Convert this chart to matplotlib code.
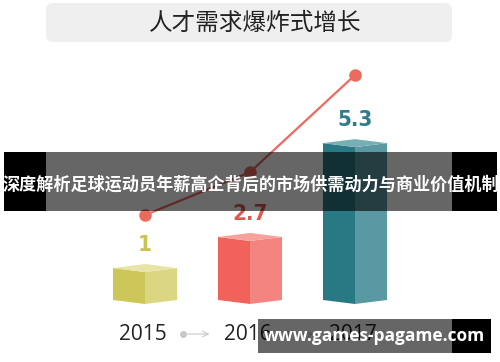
import matplotlib
matplotlib.use('Agg')
import matplotlib.pyplot as plt
from matplotlib.patches import Polygon, FancyBboxPatch, Rectangle

plt.rcParams['font.family'] = ['Noto Sans CJK SC', 'DejaVu Sans']

# データ
years = ['2015', '2016', '2017']
values = [1, 2.7, 5.3]
value_labels = ['1', '2.7', '5.3']
# 図の上で描かれている箱の高さ（絵から読んだ値）
box_height = [1.08, 2.13, 5.3]
# 赤い折れ線
trend = [2.87, 4.32, 7.6]

title = '人才需求爆炸式增长'
banner = '深度解析足球运动员年薪高企背后的市场供需动力与商业价值机制'
site = 'www.games-pagame.com'

# 箱の色（左面, 右面, 上面, 数字）
colors = [
    ('#cdc659', '#dbd682', '#e7e4a6', '#c8c352'),
    ('#f0625a', '#f4847f', '#f6a19c', '#e0574f'),
    ('#287983', '#5a99a3', '#78afb7', '#2e7c87'),
]

W, H = 500, 362
fig = plt.figure(figsize=(W / 100, H / 100), dpi=100)

# 背景（タイトルの箱）
bg = fig.add_axes([0, 0, 1, 1], zorder=0)
bg.set_xlim(0, W)
bg.set_ylim(H, 0)
bg.axis('off')
bg.add_patch(FancyBboxPatch((46, 3), 406, 39, boxstyle='round,pad=0,rounding_size=7',
                            facecolor='#efefef', edgecolor='none'))
bg.text(255, 23, title, ha='center', va='center', fontsize=17, color='#222222')

# グラフ本体
ax = fig.add_axes([0.08, 0, 0.84, 312 / 362], zorder=1)
ax.patch.set_alpha(0)
ax.set_xlim(-1, 3)
ax.set_ylim(-62 / 29.6, 250 / 29.6)
ax.axis('off')

w = 0.305   # 箱の半分の幅
d = 0.135   # 上面のひし形の深さ
for i, h in enumerate(box_height):
    left_c, right_c, top_c, txt_c = colors[i]
    x = i
    ax.add_patch(Polygon([(x - w, 0), (x, -d), (x, h - d), (x - w, h)], closed=True,
                         facecolor=left_c, edgecolor='none'))
    ax.add_patch(Polygon([(x, -d), (x + w, 0), (x + w, h), (x, h - d)], closed=True,
                         facecolor=right_c, edgecolor='none'))
    ax.add_patch(Polygon([(x - w, h), (x, h - d), (x + w, h), (x, h + d)], closed=True,
                         facecolor=top_c, edgecolor='none'))
    ax.text(x, h + d + 0.65, value_labels[i], ha='center', va='center', fontsize=16,
            fontweight='bold', fontstretch='condensed', color=txt_c, family='DejaVu Sans')
    ax.text(x - 0.02, -1.15, years[i], ha='center', va='center', fontsize=15,
            color='#222222', family=['Open Sans', 'DejaVu Sans'])

# 年の間の小さい矢印
for i in range(len(years) - 1):
    ax.plot([i + 0.36], [-1.15], 'o', color='#c8c8c8', markersize=4)
    ax.annotate('', xy=(i + 0.64, -1.15), xytext=(i + 0.38, -1.15),
                arrowprops=dict(arrowstyle='->', color='#c8c8c8', lw=0.8))

ax.plot(range(len(trend)), trend, color='#ec6a5e', lw=1.6, marker='o', markersize=8,
        zorder=5)

# 上に重なった帯
ov = fig.add_axes([0, 0, 1, 1], zorder=2)
ov.patch.set_alpha(0)
ov.set_xlim(0, W)
ov.set_ylim(H, 0)
ov.axis('off')
ov.add_patch(Rectangle((4, 152), 42, 59, facecolor='black', edgecolor='none'))
ov.add_patch(Rectangle((452, 152), 45, 59, facecolor='black', edgecolor='none'))
ov.add_patch(Rectangle((46, 152), 406, 59, facecolor='black', alpha=0.6, edgecolor='none'))
ov.text(250.5, 185, banner, ha='center', va='center', fontsize=12.3, fontweight='bold',
        color='white')
ov.add_patch(Rectangle((452, 319), 39, 34, facecolor='black', edgecolor='none'))
ov.add_patch(Rectangle((258, 319), 194, 34, facecolor='black', alpha=0.6, edgecolor='none'))
ov.text(374, 336, site, ha='center', va='center', fontsize=12.5, fontweight='bold',
        color='white', family=['Open Sans', 'DejaVu Sans'])

fig.savefig('out.png', dpi=100)
